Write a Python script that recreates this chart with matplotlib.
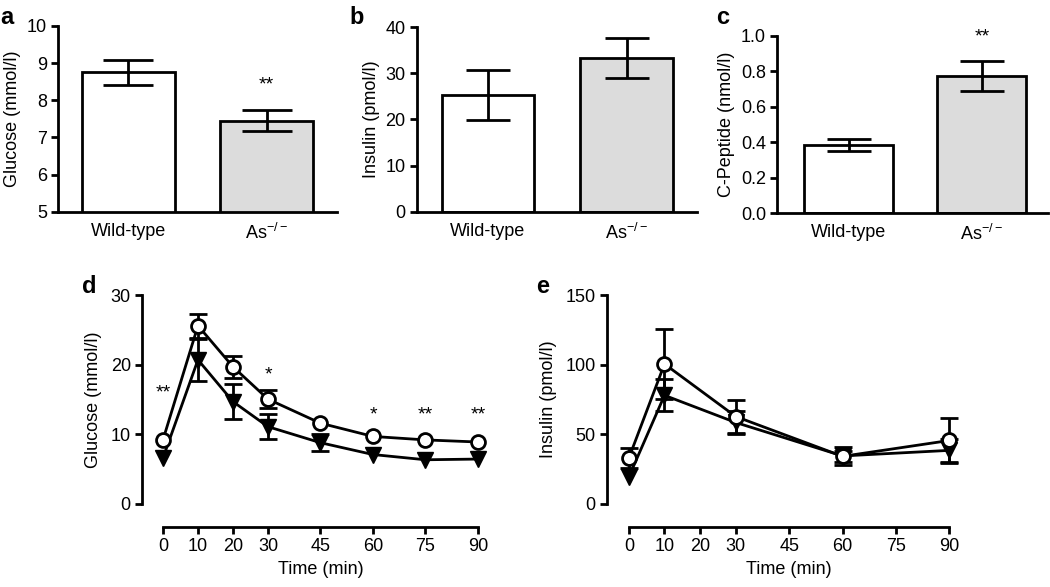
import matplotlib
matplotlib.use("Agg")
import matplotlib.pyplot as plt

plt.rcParams['font.family'] = ['Liberation Sans', 'DejaVu Sans']
plt.rcParams['mathtext.fontset'] = 'custom'
plt.rcParams['mathtext.rm'] = 'Liberation Sans'
plt.rcParams['axes.linewidth'] = 2

nan = float('nan')  # SEM too small to show

# bar panels (a-c)
groups = ['Wild-type', 'As$^{\\mathrm{-/-}}$']
glucose_bar = [8.75, 7.45]
glucose_bar_err = [0.33, 0.28]
insulin_bar = [25.2, 33.3]
insulin_bar_err = [5.4, 4.35]
cpep_bar = [0.385, 0.775]
cpep_bar_err = [0.033, 0.085]

# time course panels (d, e)
time_d = [0, 10, 20, 30, 45, 60, 75, 90]
gluc_wt = [9.2, 25.6, 19.7, 15.05, 11.6, 9.7, 9.2, 8.9]
gluc_wt_err = [nan, 1.7, 1.6, 1.3, nan, nan, nan, nan]
gluc_ko = [6.6, 20.7, 14.7, 11.1, 8.8, 7.1, 6.35, 6.45]
gluc_ko_err = [nan, 3.0, 2.5, 1.8, 1.2, nan, nan, nan]
gluc_stars = ['**', '', '', '*', '', '*', '**', '**']
gluc_star_y = [15.9, None, None, 18.5, None, 12.8, 12.8, 12.8]

time_e = [0, 10, 30, 60, 90]
ins_wt = [33.0, 100.5, 62.8, 34.2, 45.6]
ins_wt_err = [7.0, 25.0, 12.0, 4.0, 16.0]
ins_ko = [19.5, 78.0, 58.5, 34.5, 38.5]
ins_ko_err = [nan, 11.5, 8.0, 6.5, 8.0]

time_ticks = [0, 10, 20, 30, 45, 60, 75, 90]

fig = plt.figure(figsize=(10.5, 5.87), dpi=100)
FS = 13


def style(ax):
    for s in ['top', 'right']:
        ax.spines[s].set_visible(False)
    ax.tick_params(axis='both', direction='out', length=5, width=2,
                   labelsize=FS, pad=3)


def bar_panel(rect, vals, errs, ylim, yticks, ylabel, fmt, xlim, cap, star=None):
    ax = fig.add_axes(rect)
    x = [0, 1]
    ax.bar(x, vals, width=0.67, color=['white', '#dcdcdc'],
           edgecolor='black', linewidth=2, zorder=2)
    ax.errorbar(x, vals, yerr=errs, fmt='none', ecolor='black',
                elinewidth=2, capsize=cap, capthick=2, zorder=3)
    ax.set_xlim(*xlim)
    ax.set_ylim(*ylim)
    ax.set_yticks(yticks)
    ax.set_yticklabels([fmt.format(v) for v in yticks])
    ax.set_xticks(x)
    ax.set_xticklabels(groups)
    style(ax)
    ax.tick_params(axis='x', length=0, pad=8)
    ax.set_ylabel(ylabel, fontsize=FS, labelpad=4)
    if star is not None:
        ax.text(1, star, '**', ha='center', va='center', fontsize=14)
    return ax


bar_panel([0.0552, 0.639, 0.266, 0.317], glucose_bar, glucose_bar_err,
          (5, 10), [5, 6, 7, 8, 9, 10], 'Glucose (mmol/l)', '{:.0f}',
          (-0.51, 1.51), 18, star=8.4)
bar_panel([0.397, 0.639, 0.267, 0.315], insulin_bar, insulin_bar_err,
          (0, 40), [0, 10, 20, 30, 40], 'Insulin (pmol/l)', '{:.0f}',
          (-0.513, 1.509), 16)
bar_panel([0.740, 0.637, 0.258, 0.302], cpep_bar, cpep_bar_err,
          (0, 1.0), [0, 0.2, 0.4, 0.6, 0.8, 1.0], 'C-Peptide (nmol/l)', '{:.1f}',
          (-0.541, 1.496), 16, star=0.995)


def time_panel(rect, t, wt, wt_err, ko, ko_err, ylim, yticks, ylabel, xlim):
    ax = fig.add_axes(rect)
    ax.errorbar(t, ko, yerr=ko_err, color='black', lw=2, marker='v',
                ms=11, mfc='black', mec='black', elinewidth=2, capsize=6.5,
                capthick=2, zorder=3, clip_on=False)
    ax.errorbar(t, wt, yerr=wt_err, color='black', lw=2, marker='o',
                ms=10, mfc='white', mec='black', mew=2, elinewidth=2,
                capsize=6.5, capthick=2, zorder=4, clip_on=False)
    ax.set_xlim(*xlim)
    ax.set_ylim(*ylim)
    ax.set_yticks(yticks)
    ax.set_xticks(time_ticks)
    ax.spines['bottom'].set_position(('outward', 16.5))
    ax.spines['bottom'].set_bounds(0, 90)
    ax.spines['left'].set_bounds(*ylim)
    style(ax)
    ax.set_ylabel(ylabel, fontsize=FS, labelpad=6)
    ax.set_xlabel('Time (min)', fontsize=FS, labelpad=4)
    ax.xaxis.label.set_x((45 - xlim[0]) / (xlim[1] - xlim[0]))
    return ax


axd = time_panel([0.1352, 0.1414, 0.3267, 0.356], time_d, gluc_wt, gluc_wt_err,
                 gluc_ko, gluc_ko_err, (0, 30), [0, 10, 20, 30],
                 'Glucose (mmol/l)', (-6, 92))
for tx, s, sy in zip(time_d, gluc_stars, gluc_star_y):
    if s:
        axd.text(tx, sy, s, ha='center', va='center', fontsize=14)

time_panel([0.578, 0.1414, 0.333, 0.356], time_e, ins_wt, ins_wt_err,
           ins_ko, ins_ko_err, (0, 150), [0, 50, 100, 150],
           'Insulin (pmol/l)', (-6.17, 92))

for lx, ly, lt in [(0.0, 0.99, 'a'), (0.333, 0.99, 'b'), (0.682, 0.99, 'c'),
                   (0.078, 0.531, 'd'), (0.511, 0.531, 'e')]:
    fig.text(lx, ly, lt, fontsize=17, fontweight='bold', va='top', ha='left')

fig.savefig('out.png', dpi=100)
